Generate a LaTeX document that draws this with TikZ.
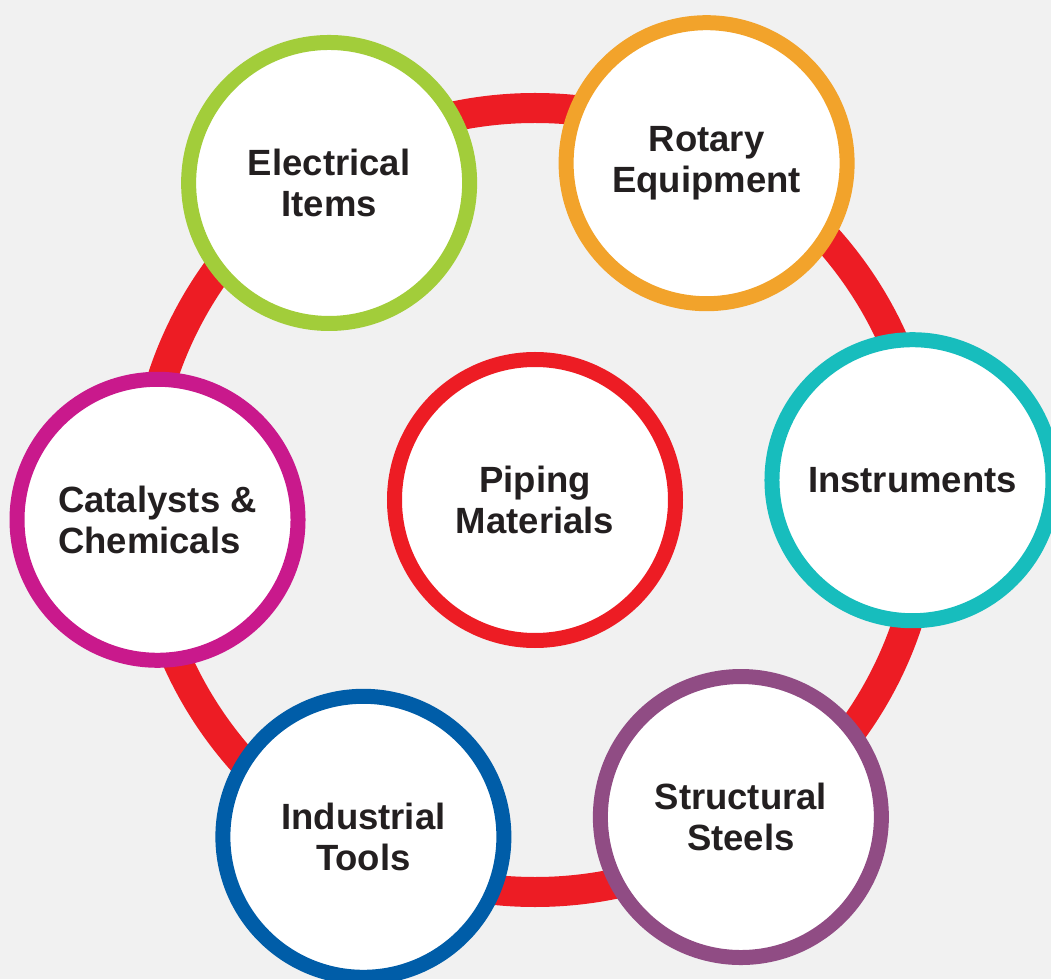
\documentclass[tikz,border=0pt]{standalone}
\usepackage{fontspec}
\setmainfont{Liberation Sans}
\definecolor{bgGray}{HTML}{F1F1F1}
\definecolor{ringRed}{HTML}{ED1C24}
\definecolor{itemGreen}{HTML}{A2CD3A}
\definecolor{itemOrange}{HTML}{F2A32B}
\definecolor{itemTeal}{HTML}{17BDBD}
\definecolor{itemPurple}{HTML}{904C84}
\definecolor{itemBlue}{HTML}{005DA8}
\definecolor{itemMagenta}{HTML}{C9198C}
\definecolor{labelInk}{HTML}{231F20}
\begin{document}
\begin{tikzpicture}[x=1pt, y=1pt, line join=round, line cap=round,
  item/.style={circle, draw=#1, fill=white, line width=15pt, minimum size=281pt,
    inner sep=0pt, align=center, text=labelInk,
    font=\fontsize{36.5}{40.5}\selectfont\bfseries}]
\def\R{378} \def\ring{392} % khoang cach
\useasboundingbox (-535,-479) rectangle (516,500);
\fill[bgGray] (-535,-479) rectangle (516,500);
\draw[ringRed, line width=30pt] (0,0) circle (\ring);
\node[item=ringRed] (pipe) at (0,0) {Piping\\Materials};
\node[item=itemGreen] (elec) at (123:\R) {Electrical\\Items};
\node[item=itemOrange] (rot) at (63:\R) {Rotary\\Equipment};
\node[item=itemTeal] (inst) at (3:\R) {Instruments};
\node[item=itemPurple] (steel) at (-57:\R) {Structural\\Steels};
\node[item=itemBlue] (tool) at (-117:\R) {Industrial\\Tools};
\node[item=itemMagenta, align=left] (chem) at (183:\R) {Catalysts \&\\Chemicals};
\end{tikzpicture}
\end{document}
